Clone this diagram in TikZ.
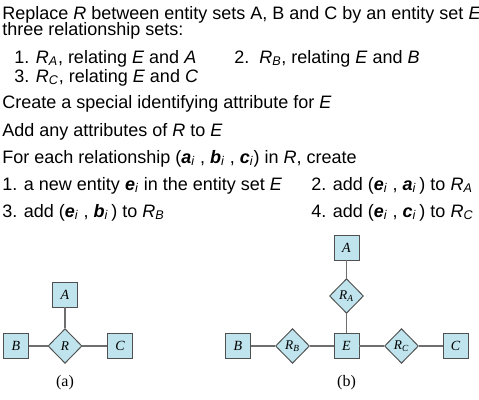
\documentclass[tikz,border=0pt]{standalone}
\usepackage{fontspec}
\setmainfont{Liberation Sans}
\newfontfamily\figfont{Liberation Serif}
\usetikzlibrary{positioning, shapes.geometric}
\definecolor{erfill}{HTML}{BFE4EE}
\definecolor{erline}{HTML}{505050}
\definecolor{erlink}{HTML}{6E6E6E}
\newcommand{\Rsub}[1]{\textit{R}\textsubscript{\textit{#1}}}
\newcommand{\bsub}[1]{\textbf{\textit{#1}}\textsubscript{\textit{i}}}

\begin{document}
\begin{tikzpicture}[
    x=0.75pt, y=-0.75pt,
    font=\fontsize{13.5}{16}\selectfont,
    txt/.style={anchor=base west, inner sep=0pt},
    entset/.style={draw=erline, fill=erfill, line width=0.7pt, minimum size=18.75pt, inner sep=0pt,
        font=\figfont\itshape\fontsize{10.5}{11}\selectfont},
    relset/.style={diamond, draw=erline, fill=erfill, line width=0.7pt, minimum width=25.5pt,
        minimum height=26pt, inner sep=0pt, font=\figfont\itshape\fontsize{10}{11}\selectfont},
    link/.style={draw=erlink, line width=0.9pt},
    figcap/.style={font=\figfont\fontsize{12}{14}\selectfont},
]
\useasboundingbox (0,0) rectangle (479,400);

% Text lines
\node[txt] (l1) at (2,19) {Replace \textit{R} between entity sets A, B and C by an entity set \textit{E}};
\node[txt] (l2) at (2,35) {three relationship sets:};
\node[txt] (l3) at (14,63) {1. \Rsub{A}, relating \textit{E} and \textit{A}};
\node[txt] (l4) at (234,63) {2.\ \ \Rsub{B}, relating \textit{E} and \textit{B}};
\node[txt] (l5) at (14,82) {3. \Rsub{C}, relating \textit{E} and \textit{C}};
\node[txt] (l6) at (2,108) {Create a special identifying attribute for \textit{E}};
\node[txt] (l7) at (2,136) {Add any attributes of \textit{R} to \textit{E}};
\node[txt] (l8) at (2,163) {For each relationship (\bsub{a} , \bsub{b} , \bsub{c}) in \textit{R}, create};
\node[txt] (l9) at (2,190) {1. a new entity \bsub{e} in the entity set \textit{E}};
\node[txt] (l10) at (311,190) {2. add (\bsub{e} , \bsub{a}\,) to \Rsub{A}};
\node[txt] (l11) at (2,217) {3. add (\bsub{e} , \bsub{b}\,) to \Rsub{B}};
\node[txt] (l12) at (311,217) {4. add (\bsub{e} , \bsub{c}\,) to \Rsub{C}};

% (a) ternary relationship
\node[relset] (R) at (65,346) {R};
\node[entset] (A) at (65,294.5) {A};
\node[entset] (B) at (16,346) {B};
\node[entset] (C) at (120,346) {C};
\draw[link] (A) -- (R);
\draw[link] (B) -- (R);
\draw[link] (R) -- (C);
\node[figcap] (capa) at (65,383) {(a)};

% (b) entity set E with three binary relationships
\node[entset] (E) at (346.5,346) {E};
\node[entset] (A2) at (346.5,247.5) {A};
\node[relset] (RA) at (346.5,296) {\Rsub{A}};
\node[entset] (B2) at (238,346) {B};
\node[relset] (RB) at (292.5,346) {\Rsub{B}};
\node[relset] (RC) at (401.5,346) {\Rsub{C}};
\node[entset] (C2) at (455.5,346) {C};
\draw[link] (A2) -- (RA);
\draw[link] (RA) -- (E);
\draw[link] (B2) -- (RB);
\draw[link] (RB) -- (E);
\draw[link] (E) -- (RC);
\draw[link] (RC) -- (C2);
\node[figcap] (capb) at (346.5,383) {(b)};

\end{tikzpicture}
\end{document}
